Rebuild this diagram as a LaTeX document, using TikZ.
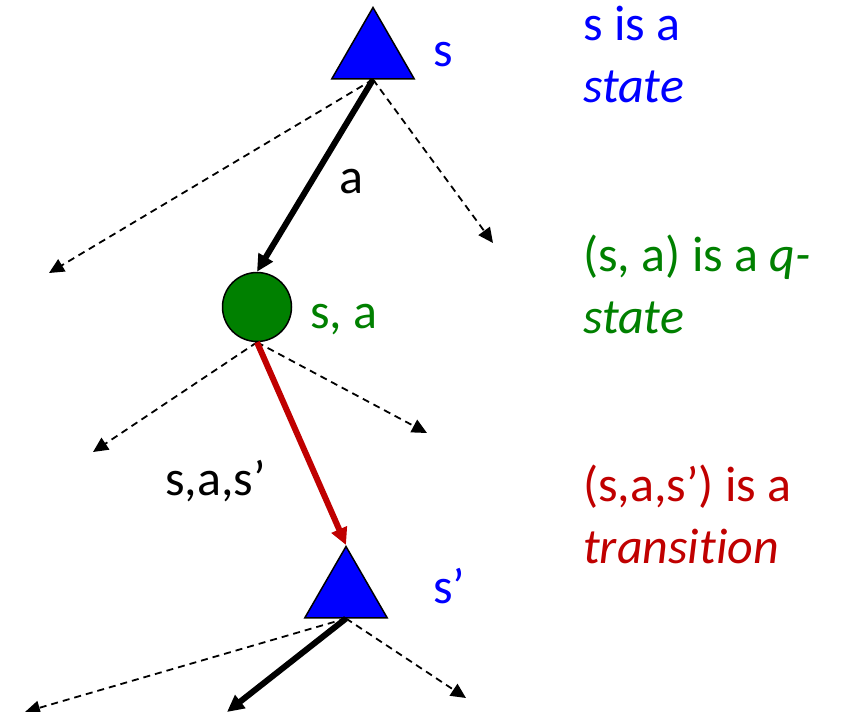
\documentclass[tikz,border=0pt]{standalone}
\usepackage{fontspec}
\setmainfont{Carlito}[Ligatures={TeX,NoCommon}]
\usetikzlibrary{arrows.meta, shapes.geometric}

\definecolor{stateblue}{RGB}{0,0,255}
\definecolor{qgreen}{RGB}{0,128,0}
\definecolor{transred}{RGB}{192,0,0}

\begin{document}
\begin{tikzpicture}[
  x=1pt, y=-1pt,
  statenode/.style={draw, fill=stateblue, line width=1.5pt, regular polygon, regular polygon sides=3, minimum size=95pt, inner sep=0pt},
  qstate/.style={draw, circle, fill=qgreen, line width=1.5pt, minimum size=69pt, inner sep=0pt},
  lbl/.style={font=\fontsize{50}{62}\selectfont, anchor=base west, inner sep=0pt},
  note/.style={lbl, align=left},
  arrow/.style={-{Triangle[length=17pt, width=16pt]}, line width=6pt},
  dashedarrow/.style={-{Triangle[length=15pt, width=14pt]}, line width=1.8pt, dash pattern=on 7pt off 5pt}
]
\useasboundingbox (0,0) rectangle (849,712);

\node[statenode] (s) at (373,55) {};
\node[qstate] (sa) at (257,307) {};
\node[statenode] (s2) at (346,594) {};

\coordinate (sL) at (49,273);
\coordinate (sR) at (493,243);
\coordinate (saL) at (93,452);
\coordinate (saR) at (427,433);
\coordinate (s2L) at (25,712);
\coordinate (s2M) at (227,712);
\coordinate (s2R) at (466,698);

\draw[dashedarrow] (s.side 2) -- (sL);
\draw[dashedarrow] (s.side 2) -- (sR);
\draw[arrow] (s.side 2) -- (sa.north);

\draw[dashedarrow] (sa.south) -- (saL);
\draw[dashedarrow] (sa.south) -- (saR);
\draw[arrow, transred] (sa.south) -- (s2.corner 1);

\draw[dashedarrow] (s2.side 2) -- (s2L);
\draw[dashedarrow] (s2.side 2) -- (s2R);
\draw[arrow] (s2.side 2) -- (s2M);

\node[lbl, stateblue] (sname) at (433,66) {s};
\node[lbl] (aname) at (339,193) {a};
\node[lbl, qgreen] (saname) at (310,328) {s, a};
\node[lbl] (sasname) at (165,495) {s,a,s’};
\node[lbl, stateblue] (s2name) at (433,603) {s’};

\node[note, stateblue] (snote) at (583,102) {s is a\\\textit{state}};
\node[note, qgreen] (sanote) at (583,333) {(s, a) is a \textit{q-}\\\textit{state}};
\node[note, transred] (sasnote) at (583,563) {(s,a,s’) is a\\\textit{transition}};
\end{tikzpicture}
\end{document}
